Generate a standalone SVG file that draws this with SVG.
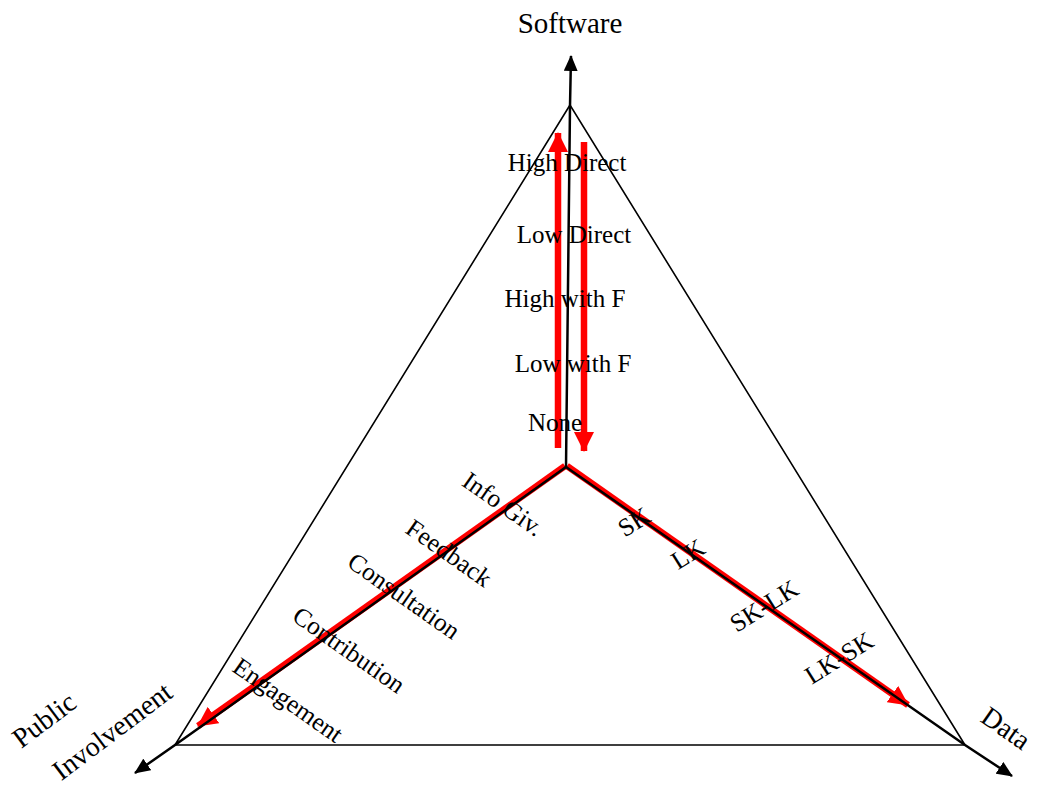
<svg xmlns="http://www.w3.org/2000/svg" width="1037" height="789" viewBox="0 0 1037 789">
<style>
text{font-family:"Liberation Serif","Times New Roman",serif;fill:#000}
.lbl{font-size:25px}
.rl{font-size:25.5px;text-anchor:middle;dominant-baseline:central}
.big{font-size:28px;text-anchor:middle;dominant-baseline:central}
.tri{fill:none;stroke:#000;stroke-width:1.6}
.axis{fill:none;stroke:#000;stroke-width:2.5}
.red{fill:none;stroke:#ff0000;stroke-width:6.5}
</style>
<defs>
<marker id="ah" markerUnits="userSpaceOnUse" markerWidth="16" markerHeight="14" refX="15" refY="7" orient="auto">
<path d="M0,0 L16,7 L0,14 z" fill="#000"/>
</marker>
<marker id="rh" markerUnits="userSpaceOnUse" markerWidth="20" markerHeight="20" refX="19" refY="10" orient="auto">
<path d="M0,0 L20,10 L0,20 z" fill="#ff0000"/>
</marker>
</defs>
<g id="triangle">
<polygon class="tri" points="570,105 175,745 965,745"/>
</g>
<g id="connectors">
<path class="red" d="M558,448 L558,133" marker-end="url(#rh)"/>
<path class="red" d="M584,142 L584,451" marker-end="url(#rh)"/>
<path class="red" d="M565,466 L198,726" marker-end="url(#rh)"/>
<path class="red" d="M567,466 L908,705" marker-end="url(#rh)"/>
<path class="axis" d="M566,467 L570,106 L571,56" marker-end="url(#ah)"/>
<path class="axis" d="M566,467 L175,745 L135,773" marker-end="url(#ah)"/>
<path class="axis" d="M566,467 L965,745 L1012,776" marker-end="url(#ah)"/>
</g>
<g id="software-axis">
<text x="570" y="33" font-size="29" text-anchor="middle">Software</text>
<text class="lbl" x="567" y="171" text-anchor="middle">High Direct</text>
<text class="lbl" x="574" y="243" text-anchor="middle">Low Direct</text>
<text class="lbl" x="565" y="307" text-anchor="middle">High with F</text>
<text class="lbl" x="573" y="372" text-anchor="middle">Low with F</text>
<text class="lbl" x="555" y="431" text-anchor="middle">None</text>
</g>
<g id="public-axis">
<text class="rl" transform="translate(503,504) rotate(35)">Info Giv.</text>
<text class="rl" transform="translate(449,553) rotate(35)">Feedback</text>
<text class="rl" transform="translate(404,596) rotate(35)">Consultation</text>
<text class="rl" transform="translate(349,650) rotate(35)">Contribution</text>
<text class="rl" transform="translate(288,700) rotate(35)">Engagement</text>
<text class="big" transform="translate(44,720) rotate(-37)">Public</text>
<text class="big" transform="translate(112,731) rotate(-37)">Involvement</text>
</g>
<g id="data-axis">
<text class="rl" transform="translate(634,522) rotate(-32)">SK</text>
<text class="rl" transform="translate(688,554) rotate(-32)">LK</text>
<text class="rl" transform="translate(764,606) rotate(-32)">SK-LK</text>
<text class="rl" transform="translate(839,658) rotate(-32)">LK-SK</text>
<text class="big" transform="translate(1006,728) rotate(35)">Data</text>
</g>
</svg>
